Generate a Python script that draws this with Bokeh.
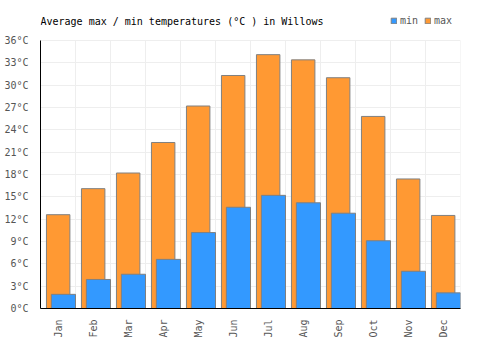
from bokeh.plotting import figure
from bokeh.models import (ColumnDataSource, FixedTicker, Legend, LegendItem,
                          CustomJSTickFormatter, Range1d, Label)
from bokeh.embed import file_html
from bokeh.resources import INLINE
import math

months = ["Jan", "Feb", "Mar", "Apr", "May", "Jun", "Jul", "Aug", "Sep", "Oct", "Nov", "Dec"]
t_min = [1.9, 3.9, 4.6, 6.6, 10.2, 13.6, 15.2, 14.2, 12.8, 9.1, 5.0, 2.1]
t_max = [12.6, 16.1, 18.2, 22.3, 27.2, 31.3, 34.1, 33.4, 31.0, 25.8, 17.4, 12.5]
y_ticks = list(range(0, 37, 3))
title_text = "Average max / min temperatures (°C ) in Willows"

FONT = "DejaVu Sans Mono"
Y_MAX = 36
FRAME_H = 308          # frame spans canvas y 0..308; the value axis occupies the lower 268 px
idx = list(range(len(months)))
src = ColumnDataSource(dict(
    xmax=[i + 0.505 for i in idx],
    xmin=[i + 0.655 for i in idx],
    tmin=t_min, tmax=t_max,
))

p = figure(width=500, height=350, output_backend="svg", toolbar_location=None,
           title_location=None,
           x_range=Range1d(0, 12), y_range=Range1d(0, Y_MAX * FRAME_H / 268),
           min_border_left=40, min_border_right=40, min_border_top=0,
           min_border_bottom=42)

# vertical grid lines (category boundaries), limited to the value range
p.segment(x0=list(range(13)), x1=list(range(13)), y0=0, y1=Y_MAX,
          line_color="#eeeeee", line_width=1)

r_max = p.vbar(x="xmax", width=0.67, top="tmax", bottom=0, source=src,
               fill_color="#ff9933", line_color="#808080", line_width=1)
r_min = p.vbar(x="xmin", width=0.69, top="tmin", bottom=0, source=src,
               fill_color="#3399ff", line_color="#808080", line_width=1)

# axes
p.xaxis.ticker = FixedTicker(ticks=[i + 0.5 for i in idx])
p.xaxis.major_label_overrides = {i + 0.5: m for i, m in zip(idx, months)}
p.xaxis.major_label_orientation = math.pi / 2
p.yaxis.ticker = FixedTicker(ticks=y_ticks)
p.yaxis.formatter = CustomJSTickFormatter(code="return tick + '°C';")
p.yaxis.bounds = (0, Y_MAX)
for ax in (p.xaxis[0], p.yaxis[0]):
    ax.major_tick_line_color = None
    ax.minor_tick_line_color = None
    ax.axis_line_color = "#000000"
    ax.axis_line_width = 1
    ax.major_label_text_font = FONT
    ax.major_label_text_font_size = "10px"
    ax.major_label_text_color = "#555555"
p.yaxis.major_label_standoff = 6
p.xaxis.major_label_standoff = 5

p.xgrid.visible = False
p.ygrid.grid_line_color = "#eeeeee"
p.ygrid.ticker = FixedTicker(ticks=y_ticks)
p.outline_line_color = None
p.background_fill_color = "#ffffff"

title = Label(x=0, y=FRAME_H - 21, x_units="screen", y_units="screen",
              text=title_text, text_font=FONT, text_font_size="10px",
              text_color="#000000", text_baseline="alphabetic", text_align="left")
p.add_layout(title)

legend = Legend(items=[LegendItem(label="min", renderers=[r_min]),
                       LegendItem(label="max", renderers=[r_max])],
                orientation="horizontal", location=(350, 282),
                label_text_font=FONT, label_text_font_size="10px",
                label_text_color="#555555", glyph_width=7, glyph_height=7,
                label_height=10, label_standoff=3, spacing=4, padding=0,
                margin=0, border_line_color=None, background_fill_alpha=0)
p.add_layout(legend, "center")

open("out.html", "w").write(file_html(p, INLINE))
